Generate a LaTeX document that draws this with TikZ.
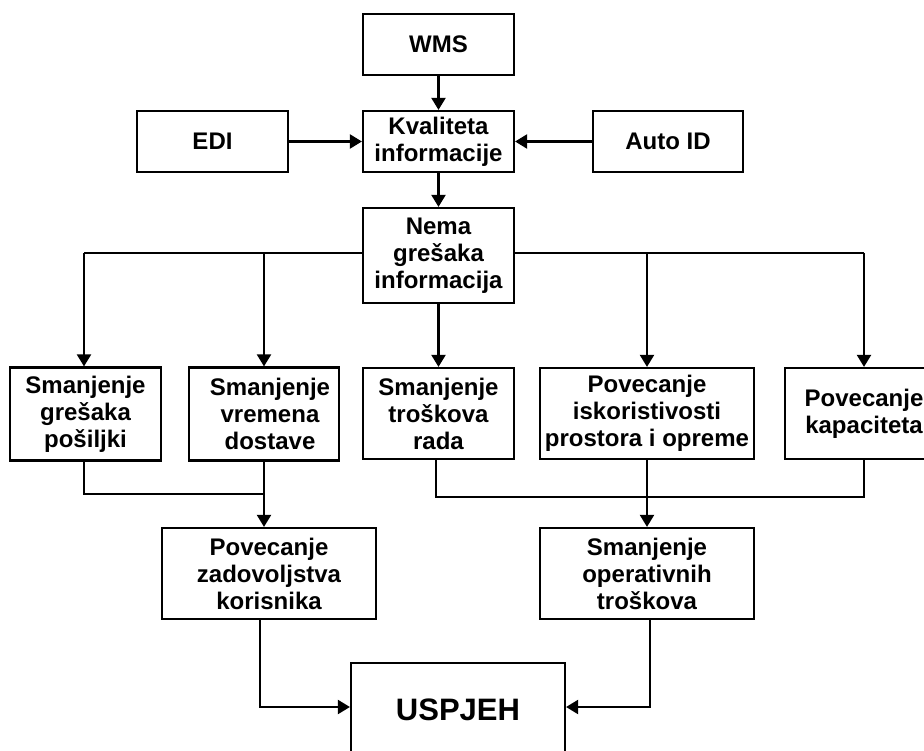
\documentclass[tikz,border=0pt]{standalone}
\usepackage{fontspec}
\setmainfont{Liberation Sans}
\usetikzlibrary{arrows.meta}
\begin{document}
\begin{tikzpicture}[x=1pt,y=-1pt,
  box/.style={draw, line width=2.2pt, align=center, inner sep=0pt,
    font=\bfseries\fontsize{24}{27}\selectfont},
  link/.style={line width=2.2pt},
  arr/.style={line width=2.2pt, -{Triangle[length=12pt,width=14pt]}}]
\clip (0,0) rectangle (924,751);
\fill[white] (0,0) rectangle (924,751);

% top part
\node[box, minimum width=151pt, minimum height=61pt] (wms) at (438.5,44.5) {WMS};
\node[box, minimum width=151pt, minimum height=61pt] (edi) at (212.5,141.5) {EDI};
\node[box, minimum width=151pt, minimum height=61pt] (kv) at (438.5,141.5) {Kvaliteta\\informacije};
\node[box, minimum width=150pt, minimum height=61pt] (auto) at (668,141.5) {Auto ID};
\node[box, minimum width=151pt, minimum height=95pt] (nema) at (438.5,255.5) {Nema\\grešaka\\informacija};

% middle row
\node[box, minimum width=151pt, minimum height=93pt] (b1) at (85.5,414) {Smanjenje\\grešaka\\pošiljki};
\node[box, minimum width=150pt, minimum height=93pt] (b2) at (264,414) {\hspace*{12pt}Smanjenje\\\hspace*{12pt}vremena\\\hspace*{12pt}dostave};
\node[box, minimum width=151pt, minimum height=91pt] (b3) at (438.5,413.5) {Smanjenje\\troškova\\rada};
\node[box, minimum width=214pt, minimum height=91pt] (b4) at (647,413.5) {Povecanje\\iskoristivosti\\prostora i opreme};
\node[box, minimum width=158pt, minimum height=91pt] (b5) at (864,413.5) {Povecanje\\kapaciteta};

% lower row
\node[box, minimum width=214pt, minimum height=91pt] (z) at (269,573.5) {Povecanje\\zadovoljstva\\korisnika};
\node[box, minimum width=214pt, minimum height=91pt] (op) at (647,573.5) {Smanjenje\\operativnih\\troškova};
\node[box, minimum width=214pt, minimum height=94pt,
  font=\bfseries\fontsize{31}{34}\selectfont] (u) at (458,710) {USPJEH};

% inputs to information quality
\draw[arr] (wms) -- (kv);
\draw[arr] (edi) -- (kv);
\draw[arr] (auto) -- (kv);
\draw[arr] (kv) -- (nema);

% distribution bus
\coordinate (busl) at (84,253);
\coordinate (busr) at (864,253);
\draw[link] (nema.west |- busl) -- (busl);
\draw[link] (nema.east |- busr) -- (busr);
\draw[arr] (busl) -- (busl |- b1.north);
\draw[arr] (b2.north |- busl) -- (b2.north);
\draw[arr] (nema) -- (b3);
\draw[arr] (b4.north |- busr) -- (b4.north);
\draw[arr] (busr) -- (busr |- b5.north);

% collecting to the lower row
\coordinate (j1) at (84,494);
\coordinate (j2) at (436,497);
\draw[link] (j1 |- b1.south) -- (j1) -- (b2.south |- j1);
\draw[arr] (b2.south) -- (b2.south |- z.north);
\draw[link] (j2 |- b3.south) -- (j2) -- (b5.south |- j2) -- (b5.south);
\draw[arr] (b4) -- (op);

% to success
\coordinate (s1) at (260,707);
\coordinate (s2) at (650,707);
\draw[arr] (s1 |- z.south) -- (s1) -- (u.west |- s1);
\draw[arr] (s2 |- op.south) -- (s2) -- (u.east |- s2);
\end{tikzpicture}
\end{document}
